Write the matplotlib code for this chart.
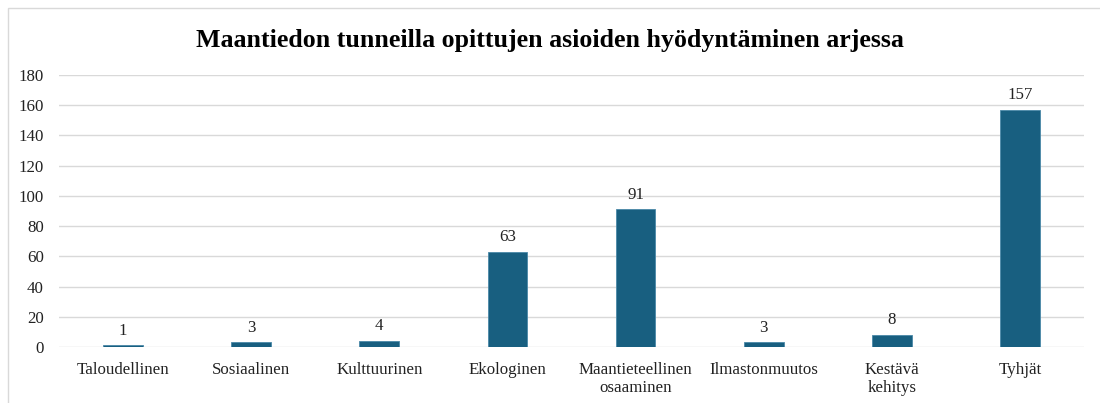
import matplotlib
matplotlib.use("Agg")
import matplotlib.pyplot as plt
from matplotlib.patches import Rectangle

categories = ["Taloudellinen", "Sosiaalinen", "Kulttuurinen", "Ekologinen",
              "Maantieteellinen\nosaaminen", "Ilmastonmuutos", "Kestävä\nkehitys", "Tyhjät"]
counts = [1, 3, 4, 63, 91, 3, 8, 157]
y_ticks = [0, 20, 40, 60, 80, 100, 120, 140, 160, 180]

BAR_COLOR = "#185f80"
plt.rcParams["font.family"] = ["Liberation Serif", "DejaVu Serif"]

fig = plt.figure(figsize=(11, 4.03), dpi=100)
ax = fig.add_axes([59 / 1100, 1 - 347 / 403, (1084 - 59) / 1100, (347 - 75) / 403])

x = range(len(categories))
bars = ax.bar(x, counts, width=0.31, color=BAR_COLOR, edgecolor="#4a88a8", linewidth=0.6, zorder=3)
for rect, v in zip(bars, counts):
    ax.annotate(str(v), (rect.get_x() + rect.get_width() / 2, v), xytext=(0, 5),
                textcoords="offset points", ha="center", va="bottom", fontsize=12.2, color="#222222")

ax.set_xlim(-0.5, len(categories) - 0.5)
ax.set_ylim(0, 180)
ax.set_yticks(y_ticks)
ax.set_yticklabels([str(t) for t in y_ticks], fontsize=12.2, color="#222222")
ax.set_xticks(list(x))
ax.set_xticklabels(categories, fontsize=12.2, color="#222222", linespacing=1.12)
ax.tick_params(axis="both", length=0)
ax.tick_params(axis="x", pad=11)
ax.tick_params(axis="y", pad=11)
ax.grid(axis="y", color="#d9d9d9", linewidth=1.0, zorder=0)
for s in ax.spines.values():
    s.set_visible(False)

fig.text(0.5, 1 - 40 / 403, "Maantiedon tunneilla opittujen asioiden hyödyntäminen arjessa",
         ha="center", va="center", fontsize=18.6, fontweight="bold", color="black")

# chart-area border (only top/left visible in reference crop)
fig.patches.append(Rectangle((8 / 1100, -0.1), 1.2, 1 - 8 / 403 + 0.1, transform=fig.transFigure,
                             fill=False, edgecolor="#d9d9d9", linewidth=1.0))

fig.savefig("out.png", dpi=100)
